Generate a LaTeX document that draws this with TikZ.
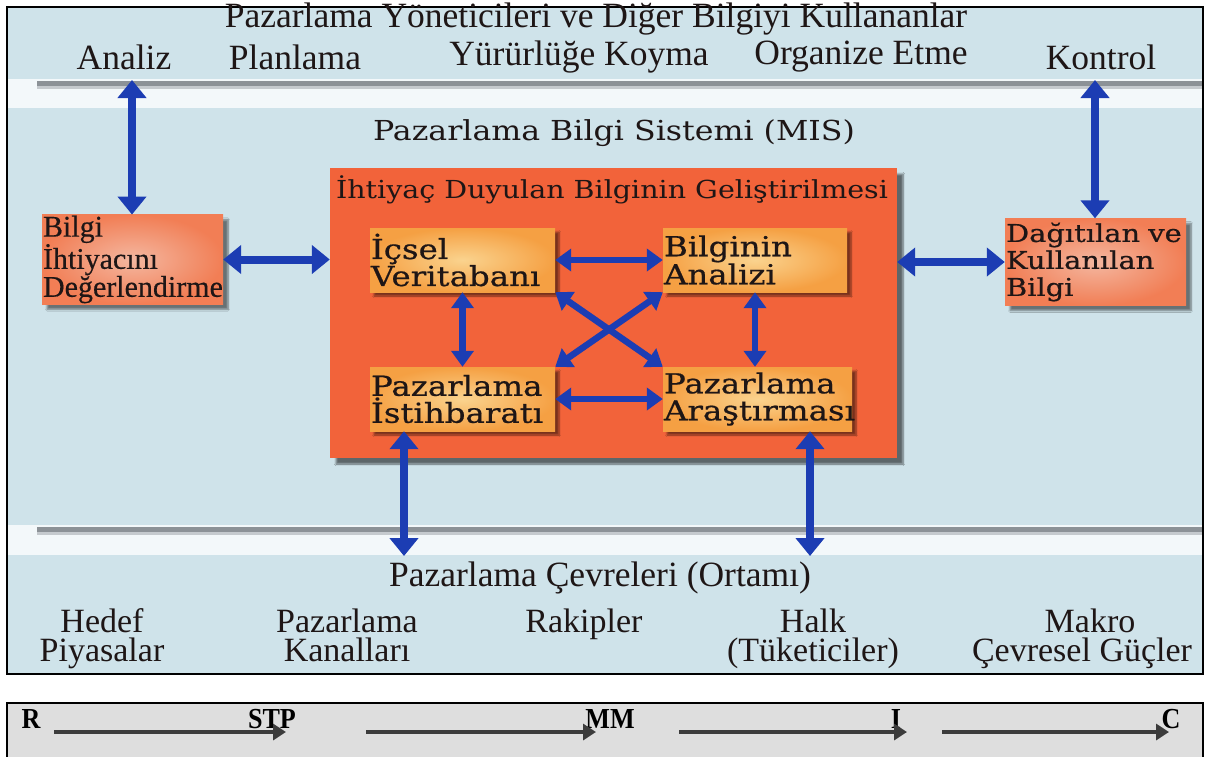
\documentclass[tikz,border=0pt]{standalone}
\usepackage{fontspec}
\setmainfont{Liberation Serif}
\newfontfamily\tfont{Liberation Serif}
\newfontfamily\wfont[FakeStretch=1.18,FakeBold=0.6]{DejaVu Serif}
\newfontfamily\mfont[FakeStretch=1.15]{DejaVu Serif}
\newfontfamily\lfont[FakeBold=0.4]{Liberation Serif}
\newfontfamily\bfontc[FakeStretch=0.9]{Liberation Serif}
\usetikzlibrary{arrows.meta,shadows.blur}
\definecolor{bgblue}{HTML}{CFE3EA}
\definecolor{bandw}{HTML}{F3F8FA}
\definecolor{bandg}{HTML}{8C9297}
\definecolor{blu}{HTML}{1C3DB3}
\definecolor{txt}{HTML}{1E1616}
\definecolor{bigor}{HTML}{F2633A}
\definecolor{ibout}{HTML}{F5A043}
\definecolor{ibin}{HTML}{FAD38E}
\definecolor{sbout}{HTML}{F27E55}
\definecolor{sbin}{HTML}{F3B7A0}
\definecolor{stripg}{HTML}{DEDEDE}
\definecolor{darkar}{HTML}{3C3C3C}
\tikzset{
  toplbl/.style={font=\tfont\fontsize{35.5}{36}\selectfont, text=txt, inner sep=0pt},
  botlbl/.style={font=\tfont\fontsize{34}{30}\selectfont, text=txt, inner sep=0pt, text height=22pt, text depth=6pt},
  midttl/.style={text=txt, inner sep=0pt},
  innerbox/.style={shading=radial, inner color=ibin, outer color=ibout,
    minimum width=185pt, minimum height=64pt, text width=183pt, align=left, inner sep=1pt,
    font=\wfont\fontsize{27.5}{27}\selectfont, text=txt,
    blur shadow={shadow xshift=4pt, shadow yshift=-4pt, shadow blur steps=6, shadow opacity=50}},
  sidebox/.style={shading=radial, inner color=sbin, outer color=sbout,
    minimum height=87pt, inner sep=1pt, align=left, text=txt,
    blur shadow={shadow xshift=5pt, shadow yshift=-5pt, shadow blur steps=6, shadow opacity=50}},
  barrow/.style={draw=blu, line width=8pt, arrows={Triangle[width=28pt,length=18pt]-Triangle[width=28pt,length=18pt]}},
  sarrow/.style={draw=blu, line width=6.5pt, arrows={Triangle[width=22pt,length=16pt]-Triangle[width=22pt,length=16pt]}},
  garrow/.style={draw=darkar, line width=4.8pt, arrows={-Triangle[width=16pt,length=13pt]}},
  striplbl/.style={font=\bfontc\bfseries\fontsize{29}{29}\selectfont, inner sep=0pt, text=black}
}
\begin{document}
\begin{tikzpicture}[x=1pt,y=-1pt]
\useasboundingbox (0,0) rectangle (1209,756);
\fill[white] (0,0) rectangle (1209,756);
% main panel
\fill[bgblue] (7,7) rectangle (1203,674);
\fill[bandw] (8,79) rectangle (1203,108);
\fill[bandg] (37,81) rectangle (1203,86);
\fill[bandg!45!bandw] (37,86) rectangle (1203,89);
\fill[bandw] (8,525) rectangle (1203,555);
\fill[bandg] (37,527) rectangle (1203,532);
\fill[bandg!45!bandw] (37,532) rectangle (1203,535);
\draw[line width=2.5pt] (7,7) rectangle (1203,674);

% top texts
\node[toplbl] (title) at (596,19) {Pazarlama Yöneticileri ve Diğer Bilgiyi Kullananlar};
\node[toplbl] (analiz) at (124,57) {Analiz};
\node[toplbl] (plan) at (295,57) {Planlama};
\node[toplbl] (yur) at (579,57) {Yürürlüğe Koyma};
\node[toplbl] (org) at (861,57) {Organize Etme};
\node[toplbl] (kont) at (1101,57) {Kontrol};

\node[midttl, font=\mfont\fontsize{27.5}{28}\selectfont] (mis) at (614,133) {Pazarlama Bilgi Sistemi (MIS)};

% big box
\node[fill=bigor, minimum width=567pt, minimum height=290pt, inner sep=0pt,
  blur shadow={shadow xshift=6pt, shadow yshift=-6pt, shadow blur steps=6, shadow opacity=55}] (big) at (613.5,313) {};
\node[midttl, font=\mfont\fontsize{24.8}{26}\selectfont] (bigttl) at (612,190) {İhtiyaç Duyulan Bilginin Geliştirilmesi};

% inner boxes
\node[innerbox] (ic) at (462.5,260) {İçsel\\Veritabanı};
\node[innerbox, minimum width=184pt, text width=182pt] (ba) at (755,260) {Bilginin\\Analizi};
\node[innerbox] (pi) at (462.5,399) {Pazarlama\\İstihbaratı};
\node[innerbox, minimum width=189pt, text width=187pt] (pa) at (757.5,399) {Pazarlama\\Araştırması};

% side boxes
\node[sidebox, minimum width=181pt, text width=179pt, font=\lfont\fontsize{30}{28}\selectfont] (lbox) at (132.5,259.5) {Bilgi\\İhtiyacını\\Değerlendirme};
\node[sidebox, minimum width=181pt, text width=179pt, font=\wfont\fontsize{24.5}{27}\selectfont] (rbox) at (1095.5,262) {Dağıtılan ve\\Kullanılan\\Bilgi};

% connectors
\coordinate (u1) at (132,80);
\coordinate (u2) at (1095,80);
\draw[barrow] (u1) -- (u1 |- lbox.north);
\draw[barrow] (u2) -- (u2 |- rbox.north);
\draw[barrow] (lbox.east) -- (lbox.east -| big.west);
\draw[barrow] (big.east |- rbox.west) -- (rbox.west);
\draw[sarrow] (ic.east) -- (ba.west);
\draw[sarrow] (pi.east) -- (pa.west);
\draw[sarrow] (ic.south) -- (ic.south |- pi.north);
\draw[sarrow] (ba.south) -- (ba.south |- pa.north);
\draw[sarrow] (ic.south east) -- (pa.north west);
\draw[sarrow] (ba.south west) -- (pi.north east);
\coordinate (e1) at (404,556);
\coordinate (e2) at (810,556);
\draw[barrow] (e1 |- pi.south) -- (e1);
\draw[barrow] (e2 |- pa.south) -- (e2);

% bottom texts
\node[toplbl] (cevre) at (600,578) {Pazarlama Çevreleri (Ortamı)};
\node[botlbl] (hedef) at (102,624) {Hedef};
\node[botlbl] (piyasa) at (102,653) {Piyasalar};
\node[botlbl] (pazar) at (347,624) {Pazarlama};
\node[botlbl] (kanal) at (347,653) {Kanalları};
\node[botlbl] (rakip) at (584,624) {Rakipler};
\node[botlbl] (halk) at (813,624) {Halk};
\node[botlbl] (tuket) at (813,653) {(Tüketiciler)};
\node[botlbl] (makro) at (1090,624) {Makro};
\node[botlbl] (guc) at (1082,653) {Çevresel Güçler};

% bottom strip
\fill[stripg] (7,703) rectangle (1203,760);
\draw[line width=2.5pt] (7,760) -- (7,703) -- (1203,703) -- (1203,760);
\node[striplbl] (r) at (31,719) {R};
\node[striplbl] (stp) at (272,719) {STP};
\node[striplbl] (mm) at (610,719) {MM};
\node[striplbl] (i) at (896,719) {I};
\node[striplbl] (c) at (1171,719) {C};
\coordinate (s1) at (54,732);  \coordinate (t1) at (286,732);
\coordinate (s2) at (366,732); \coordinate (t2) at (596,732);
\coordinate (s3) at (679,732); \coordinate (t3) at (907,732);
\coordinate (s4) at (942,732); \coordinate (t4) at (1169,732);
\draw[garrow] (s1) -- (t1);
\draw[garrow] (s2) -- (t2);
\draw[garrow] (s3) -- (t3);
\draw[garrow] (s4) -- (t4);
\end{tikzpicture}
\end{document}
